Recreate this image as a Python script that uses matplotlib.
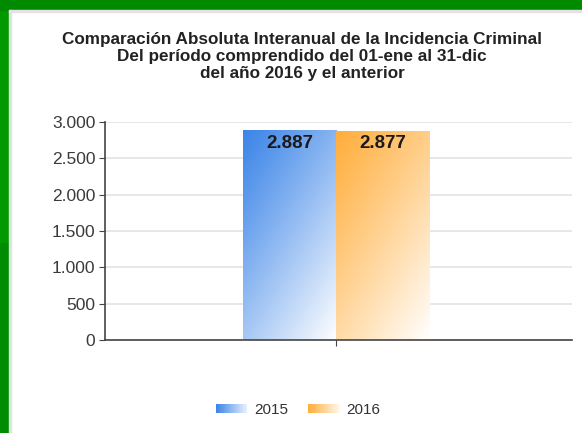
import numpy as np
import matplotlib
matplotlib.use("Agg")
import matplotlib.pyplot as plt
from matplotlib.patches import Rectangle
from matplotlib.legend_handler import HandlerBase
from matplotlib.colors import to_rgb

plt.rcParams['font.family'] = ['Liberation Sans', 'DejaVu Sans']

series = ["2015", "2016"]
values = [2887, 2877]
value_labels = ["2.887", "2.877"]
yticks = [0, 500, 1000, 1500, 2000, 2500, 3000]
ytick_labels = ["0", "500", "1.000", "1.500", "2.000", "2.500", "3.000"]
title_lines = ["Comparación Absoluta Interanual de la Incidencia Criminal",
               "Del período comprendido del 01-ene al 31-dic",
               "del año 2016 y el anterior"]
colors = ["#3c85e8", "#ffae3c"]

W, H = 582, 433
fig = plt.figure(figsize=(W / 100, H / 100), dpi=100)
fig.patch.set_facecolor("white")

# green frame (left and top)
fig.patches.append(Rectangle((0, 0), 9 / W, 1, transform=fig.transFigure, color="#009a00", zorder=0))
fig.patches.append(Rectangle((0, 0), 9 / W, 190 / H, transform=fig.transFigure, color="#008c00", zorder=0))
fig.patches.append(Rectangle((0, 1 - 10 / H), 1, 10 / H, transform=fig.transFigure, color="#008a00", zorder=0))
fig.patches.append(Rectangle((9 / W, 0), 2 / W, 1 - 10 / H, transform=fig.transFigure, color="#d8e8d8", zorder=0))
fig.patches.append(Rectangle((9 / W, 1 - 12 / H), 1, 2 / H, transform=fig.transFigure, color="#e6e0ea", zorder=0))

ax = fig.add_axes([105 / W, 1 - 340 / H, (572 - 105) / W, (340 - 122) / H])

def gradient_img(c, n=200):
    c = np.array(to_rgb(c))
    yy, xx = np.mgrid[0:1:n * 1j, 0:1:n * 1j]
    t = np.clip((xx * 0.55 + yy * 0.75) / 1.3, 0, 1)  # 0 at top-left, 1 at bottom-right
    t = t ** 1.1
    img = c[None, None, :] * (1 - t[..., None]) + np.ones(3)[None, None, :] * t[..., None]
    return img

xs = [-0.2, 0.2]
width = 0.4
bars = ax.bar(xs, values, width=width, color="none", edgecolor="none", zorder=2)
for b, c, lab in zip(bars, colors, value_labels):
    x0, y0 = b.get_x(), b.get_y()
    w, h = b.get_width(), b.get_height()
    im = ax.imshow(gradient_img(c), extent=[x0, x0 + w, y0, y0 + h], origin="upper",
                   aspect="auto", zorder=2, interpolation="bilinear")
    im.set_clip_path(b)
    ax.text(x0 + w / 2, y0 + h - 60, lab, ha="center", va="top", fontsize=13.5,
            fontweight="bold", color="#1a1a1a", zorder=3)
ax.set_xlim(-0.99, 1.01)
ax.set_ylim(0, 3000)

ax.set_yticks(yticks)
ax.set_yticklabels(ytick_labels)
ax.set_xticks([0])
ax.set_xticklabels([""])
ax.grid(axis="y", color="#e3e3e3", linewidth=1.2, zorder=0)
ax.set_axisbelow(True)
for s in ["top", "right"]:
    ax.spines[s].set_visible(False)
ax.spines["left"].set_color("#444444")
ax.spines["bottom"].set_color("#444444")
ax.spines["left"].set_linewidth(1.2)
ax.spines["bottom"].set_linewidth(1.2)
ax.tick_params(axis="y", colors="#444444", labelsize=12.5, length=4, labelcolor="#3a3a3a", pad=3)
ax.tick_params(axis="x", colors="#444444", length=4)

fig.text(302 / W, 1 - 56.5 / H, "\n".join(title_lines), ha="center", va="center",
         fontsize=12.3, fontweight="bold", color="#222222", linespacing=1.16)

class GradHandler(HandlerBase):
    def __init__(self, color):
        super().__init__()
        self.color = np.array(to_rgb(color))
    def create_artists(self, legend, orig_handle, xdescent, ydescent, width, height, fontsize, trans):
        arts = []
        n = 20
        for i in range(n):
            t = (i / (n - 1)) * 0.85
            col = self.color * (1 - t) + t
            r = Rectangle((-xdescent + width * i / n, -ydescent), width / n + 0.3, height,
                          facecolor=col, edgecolor="none", transform=trans)
            arts.append(r)
        return arts

h1 = Rectangle((0, 0), 1, 1)
h2 = Rectangle((0, 0), 1, 1)
leg = fig.legend([h1, h2], series, loc="center", bbox_to_anchor=(298 / W, 1 - 410 / H),
                 ncol=2, frameon=False, fontsize=11, handlelength=2.0, handleheight=0.5,
                 columnspacing=1.3, handletextpad=0.5,
                 handler_map={h1: GradHandler(colors[0]), h2: GradHandler(colors[1])})
for t in leg.get_texts():
    t.set_color("#333333")

fig.savefig("out.png", dpi=100)
